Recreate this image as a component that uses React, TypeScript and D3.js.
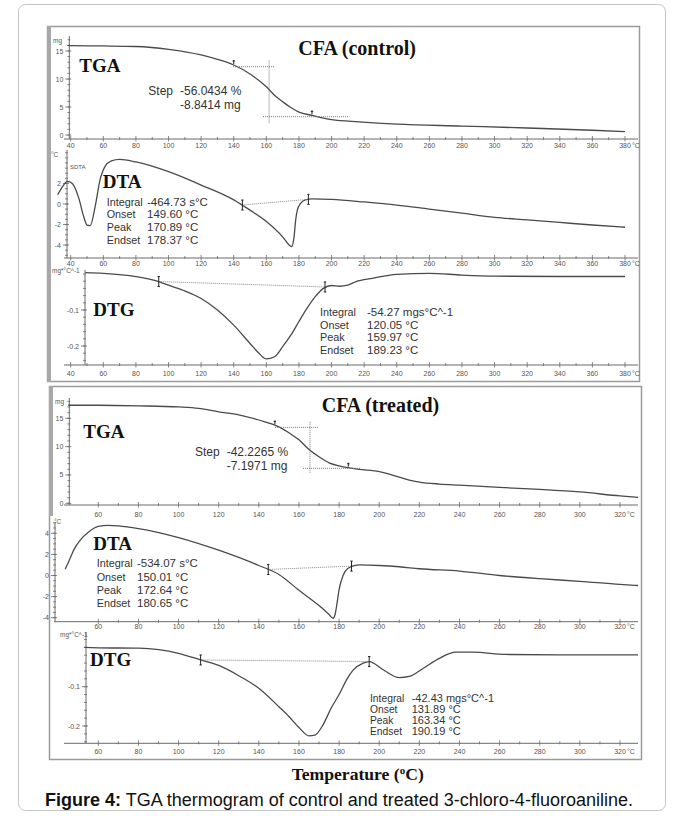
import React from "react"
import * as d3 from "d3"

// ---- CFA (control) ----
const ctrlTgaTemp = [38, 40, 60, 80, 100, 120, 130, 140, 150, 160, 165, 170, 175, 180, 188, 195, 200, 217, 240, 280, 320, 360, 380]
const ctrlTgaMass = [16.0, 15.95, 15.9, 15.8, 15.3, 14.3, 13.5, 12.5, 10.9, 8.6, 7.1, 5.95, 4.9, 4.1, 3.5, 3.0, 2.75, 2.35, 1.95, 1.6, 1.25, 0.85, 0.6]

const ctrlDtaTemp = [32, 35, 38, 41, 45, 48, 50, 52, 55, 58, 61, 65, 70, 80, 100, 120, 140, 150, 160, 170, 174, 175.5, 177, 178, 179, 181, 184, 188, 200, 220, 240, 260, 280, 300, 320, 340, 360, 380]
const ctrlDtaVal = [0.9, 1.7, 2.2, 2.0, 0.55, -1.25, -2.05, -2.1, -0.25, 2.35, 3.65, 4.2, 4.35, 4.1, 3.15, 1.85, 0.4, -0.6, -1.7, -3.2, -4.0, -4.15, -3.2, -1.55, -0.6, 0.05, 0.4, 0.5, 0.45, 0.2, -0.1, -0.5, -0.9, -1.3, -1.55, -1.8, -2.05, -2.27]

const ctrlDtgTemp = [49, 60, 80, 94, 100, 110, 120, 130, 140, 150, 155, 160, 165, 170, 175, 180, 185, 190, 195, 200, 205, 210, 215, 225, 240, 260, 280, 300, 340, 380]
const ctrlDtgVal = [0.004, 0.002, -0.007, -0.021, -0.031, -0.047, -0.068, -0.1, -0.142, -0.193, -0.218, -0.236, -0.23, -0.202, -0.17, -0.132, -0.095, -0.063, -0.04, -0.032, -0.034, -0.031, -0.021, -0.012, -0.001, 0.002, -0.003, -0.006, -0.007, -0.007]

const ctrlStepUpper = [139.6, 165.3, 12.2]
const ctrlStepVertical = [161.7, 13.3, 2.1]
const ctrlStepLower = [158, 211, 3.27]
const ctrlTgaMarks = [140, 188]
const ctrlDtaBase = [[145.3, -0.1], [185.8, 0.45]]
const ctrlDtgBase = [[94, -0.021], [196, -0.036]]

const ctrlStepText = ["-56.0434 %", "-8.8414 mg"]
const ctrlDtaStats = [["Integral", "-464.73 s°C"], ["Onset", "149.60 °C"], ["Peak", "170.89 °C"], ["Endset", "178.37 °C"]]
const ctrlDtgStats = [["Integral", "-54.27 mgs°C^-1"], ["Onset", "120.05 °C"], ["Peak", "159.97 °C"], ["Endset", "189.23 °C"]]

// ---- CFA (treated) ----
const trtTgaTemp = [45, 60, 80, 100, 110, 120, 130, 140, 150, 155, 160, 165, 170, 175, 180, 185, 190, 200, 205, 210, 215, 220, 230, 240, 260, 280, 300, 320, 329]
const trtTgaMass = [17.3, 17.3, 17.2, 17.0, 16.75, 16.15, 15.6, 14.7, 13.5, 12.45, 11.2, 9.5, 8.2, 7.15, 6.6, 6.25, 6.0, 5.6, 5.15, 4.6, 4.1, 3.75, 3.4, 3.2, 2.8, 2.45, 2.0, 1.3, 1.05]

const trtDtaTemp = [43.5, 45, 48, 51, 55, 60, 65, 70, 80, 100, 120, 140, 150, 160, 170, 175, 177, 178, 179, 180, 181, 183, 186, 190, 200, 210, 220, 240, 260, 280, 300, 320, 329]
const trtDtaVal = [0.6, 1.2, 2.5, 3.35, 4.1, 4.65, 4.75, 4.7, 4.45, 3.6, 2.4, 0.95, 0.1, -1.4, -2.85, -3.7, -4.05, -3.7, -2.6, -1.35, -0.55, 0.4, 0.85, 1.0, 0.95, 0.83, 0.64, 0.42, 0.0, -0.3, -0.55, -0.85, -0.95]

const trtDtgTemp = [53, 60, 80, 100, 111, 120, 130, 140, 150, 155, 160, 165, 168, 172, 176, 180, 184, 187, 192, 195, 202, 210, 215, 222, 230, 238, 247, 263, 290, 329]
const trtDtgVal = [0.0, -0.001, -0.002, -0.015, -0.032, -0.046, -0.072, -0.104, -0.151, -0.176, -0.204, -0.225, -0.223, -0.197, -0.155, -0.12, -0.08, -0.058, -0.04, -0.036, -0.057, -0.077, -0.074, -0.053, -0.028, -0.012, -0.012, -0.018, -0.019, -0.019]

const trtStepUpper = [148, 169.5, 13.4]
const trtStepVertical = [165.5, 14.4, 5.3]
const trtStepLower = [162, 190.7, 6.17]
const trtTgaMarks = [148, 184.6]
const trtDtaBase = [[144.7, 0.57], [186.2, 0.89]]
const trtDtgBase = [[111, -0.032], [195, -0.036]]

const trtStepText = ["-42.2265 %", "-7.1971 mg"]
const trtDtaStats = [["Integral", "-534.07 s°C"], ["Onset", "150.01 °C"], ["Peak", "172.64 °C"], ["Endset", "180.65 °C"]]
const trtDtgStats = [["Integral", "-42.43 mgs°C^-1"], ["Onset", "131.89 °C"], ["Peak", "163.34 °C"], ["Endset", "190.19 °C"]]

const ctrlXTicks = d3.range(40, 381, 20)
const trtXTicks = d3.range(60, 321, 20)

const sans = "'Liberation Sans', Arial, sans-serif"
const serif = "'Liberation Serif', 'Times New Roman', serif"
const axisCol = "#6a6a6a"
const lineCol = "#4a4a4a"

const xCtrl = d3.scaleLinear().domain([40, 380]).range([70.7, 625])
const xTrt = d3.scaleLinear().domain([60, 320]).range([98.3, 620])

const yCtrlTga = d3.scaleLinear().domain([0, 15]).range([135, 51])
const yCtrlDta = d3.scaleLinear().domain([-4, 2]).range([245, 183.5])
const yCtrlDtg = d3.scaleLinear().domain([-0.2, -0.1]).range([346, 310])
const yTrtTga = d3.scaleLinear().domain([0, 15]).range([503.3, 418.3])
const yTrtDta = d3.scaleLinear().domain([-4, 4]).range([617.7, 533.3])
const yTrtDtg = d3.scaleLinear().domain([-0.2, -0.1]).range([726, 686.7])

type Scale = d3.ScaleLinear<number, number>

function Curve({ x, y, ts, vs }: { x: Scale; y: Scale; ts: number[]; vs: number[] }) {
  const line = d3
    .line<number>()
    .x((d, i) => x(ts[i]))
    .y((d) => y(d))
    .curve(d3.curveMonotoneX)
  return <path d={line(vs) || ""} fill="none" stroke={lineCol} strokeWidth={1.3} />
}

interface AxesProps {
  x: Scale
  y: Scale
  axisY: number
  xFrom: number
  xTo: number
  xTicks: number[]
  yAxisX: number
  yTop: number
  yTicks: number[]
  yMinorStep: number
  yFmt: (v: number) => string
  unit: string
  unitX: number
  unitY: number
  labelDy: number
}

function Axes(p: AxesProps) {
  const { x, y, axisY, xFrom, xTo, xTicks, yAxisX, yTop } = p
  const step = xTicks[1] - xTicks[0]
  const xMinor = xTicks.map((t) => t + step / 2).filter((t) => x(t) < xTo && x(t) > xFrom)
  const a = y.invert(axisY)
  const b = y.invert(yTop)
  const d0 = Math.min(a, b)
  const d1 = Math.max(a, b)
  const yMinor = d3.range(Math.ceil(d0 / p.yMinorStep) * p.yMinorStep, d1, p.yMinorStep)
  const last = xTicks[xTicks.length - 1]
  return (
    <g fontFamily={sans} fontSize={7} fill="#555">
      <line x1={xFrom} x2={xTo} y1={axisY} y2={axisY} stroke={axisCol} />
      {xMinor.map((t) => (
        <line key={"xm" + t} x1={x(t)} x2={x(t)} y1={axisY - 2} y2={axisY + 1} stroke={axisCol} strokeWidth={0.8} />
      ))}
      {xTicks.map((t) => (
        <line key={"xt" + t} x1={x(t)} x2={x(t)} y1={axisY - 3} y2={axisY + 2.5} stroke={axisCol} strokeWidth={0.8} />
      ))}
      {xTicks.map((t) => (
        <text key={"xl" + t} x={x(t)} y={axisY + p.labelDy} textAnchor="middle">
          {t}
        </text>
      ))}
      <text x={x(last) + 7} y={axisY + p.labelDy}>°C</text>
      <line x1={yAxisX} x2={yAxisX} y1={yTop} y2={axisY} stroke={axisCol} />
      {yMinor.map((v) => (
        <line key={"ym" + v} x1={yAxisX - 2} x2={yAxisX + 1} y1={y(v)} y2={y(v)} stroke={axisCol} strokeWidth={0.8} />
      ))}
      {p.yTicks.map((v) => (
        <line key={"yt" + v} x1={yAxisX - 4} x2={yAxisX + 2} y1={y(v)} y2={y(v)} stroke={axisCol} strokeWidth={0.8} />
      ))}
      {p.yTicks.map((v) => (
        <text key={"yl" + v} x={yAxisX - 6} y={y(v) + 2.5} textAnchor="end">
          {p.yFmt(v)}
        </text>
      ))}
      <text x={p.unitX} y={p.unitY} fontSize={6.5}>{p.unit}</text>
    </g>
  )
}

function EndMark({ px, py }: { px: number; py: number }) {
  return (
    <g stroke="#222" strokeWidth={1}>
      <line x1={px} x2={px} y1={py - 5} y2={py + 5} />
      <line x1={px - 1.2} x2={px + 1.2} y1={py - 5} y2={py - 5} />
      <line x1={px - 1.2} x2={px + 1.2} y1={py + 5} y2={py + 5} />
    </g>
  )
}

function Baseline({ x, y, pts }: { x: Scale; y: Scale; pts: number[][] }) {
  return (
    <g>
      <line
        x1={x(pts[0][0])}
        y1={y(pts[0][1])}
        x2={x(pts[1][0])}
        y2={y(pts[1][1])}
        stroke="#888"
        strokeWidth={1}
        strokeDasharray="1,1"
      />
      {pts.map((d, i) => (
        <EndMark key={i} px={x(d[0])} py={y(d[1])} />
      ))}
    </g>
  )
}

function Step({ x, y, upper, vertical, lower, marks, ts, vs }: { x: Scale; y: Scale; upper: number[]; vertical: number[]; lower: number[]; marks: number[]; ts: number[]; vs: number[] }) {
  const interp = (t: number) => {
    const i = d3.bisectLeft(ts, t)
    const a = Math.max(0, i - 1)
    const f = (t - ts[a]) / (ts[i] - ts[a] || 1)
    return vs[a] + (vs[i] - vs[a]) * f
  }
  return (
    <g stroke="#777" strokeWidth={1} strokeDasharray="1,1">
      <line x1={x(upper[0])} x2={x(upper[1])} y1={y(upper[2])} y2={y(upper[2])} />
      <line x1={x(vertical[0])} x2={x(vertical[0])} y1={y(vertical[1])} y2={y(vertical[2])} />
      <line x1={x(lower[0])} x2={x(lower[1])} y1={y(lower[2])} y2={y(lower[2])} />
      {marks.map((t) => (
        <g key={t} stroke="#222" strokeDasharray="none">
          <line x1={x(t)} x2={x(t)} y1={y(interp(t)) - 5} y2={y(interp(t)) - 1} />
          <line x1={x(t) - 1.2} x2={x(t) + 1.2} y1={y(interp(t)) - 4} y2={y(interp(t)) - 4} />
        </g>
      ))}
    </g>
  )
}

function Stats({ rows, x0, x1, y0, dy, size = 11.5 }: { rows: string[][]; x0: number; x1: number; y0: number; dy: number; size?: number }) {
  return (
    <g fontFamily={sans} fill="#333">
      {rows.map((r, i) => (
        <g key={r[0]}>
          <text x={x0} y={y0 + i * dy} fontSize={size - 0.7}>{r[0]}</text>
          <text x={x1} y={y0 + i * dy} fontSize={size}>{r[1]}</text>
        </g>
      ))}
    </g>
  )
}

function Label({ x, y, text, size = 19 }: { x: number; y: number; text: string; size?: number }) {
  return (
    <text x={x} y={y} fontFamily={serif} fontWeight="bold" fontSize={size} fill="#111">
      {text}
    </text>
  )
}

const fmtNum = (v: number) => String(v)

export default function App() {
  return (
    <svg width={683} height={816} viewBox="0 0 683 816" style={{ position: "absolute", left: 0, top: 0, background: "#fff" }}>
      <rect x={18.5} y={4.5} width={647} height={806} rx={7} fill="#fff" stroke="#c4c4c4" strokeWidth={1} />

      {/* control panel frame */}
      <rect x={47.5} y={26.5} width={592} height={355} fill="#fff" stroke="#9a9a9a" strokeWidth={1.5} />
      <rect x={47} y={26} width={4} height={356} fill="#a8a8a8" />

      {/* treated panel frame */}
      <rect x={49.5} y={386.5} width={592} height={373} fill="#fff" stroke="#9a9a9a" strokeWidth={1.5} />
      <rect x={49} y={386} width={4} height={130} fill="#a8a8a8" />

      {/* ---------- control ---------- */}
      <Axes x={xCtrl} y={yCtrlTga} axisY={139} xFrom={64} xTo={638} xTicks={ctrlXTicks} yAxisX={69.3} yTop={36}
        yTicks={[0, 5, 10, 15]} yMinorStep={1} yFmt={fmtNum} unit="mg" unitX={53} unitY={43} labelDy={9} />
      <Curve x={xCtrl} y={yCtrlTga} ts={ctrlTgaTemp} vs={ctrlTgaMass} />
      <Step x={xCtrl} y={yCtrlTga} upper={ctrlStepUpper} vertical={ctrlStepVertical} lower={ctrlStepLower}
        marks={ctrlTgaMarks} ts={ctrlTgaTemp} vs={ctrlTgaMass} />
      <Label x={79.3} y={71.7} text="TGA" />
      <Label x={298.3} y={55} text="CFA (control)" size={20} />
      <g fontFamily={sans} fontSize={12} fill="#333">
        <text x={148.3} y={95}>Step</text>
        <text x={180} y={95}>{ctrlStepText[0]}</text>
        <text x={180} y={109}>{ctrlStepText[1]}</text>
      </g>

      <Axes x={xCtrl} y={yCtrlDta} axisY={258} xFrom={64} xTo={638} xTicks={ctrlXTicks} yAxisX={67} yTop={150}
        yTicks={[-4, -2, 0, 2]} yMinorStep={0.5} yFmt={fmtNum} unit="°C" unitX={51} unitY={157} labelDy={8} />
      <text x={70} y={169} fontFamily={sans} fontSize={6} fill="#555">SDTA</text>
      <Curve x={xCtrl} y={yCtrlDta} ts={ctrlDtaTemp} vs={ctrlDtaVal} />
      <Baseline x={xCtrl} y={yCtrlDta} pts={ctrlDtaBase} />
      <Label x={102.7} y={188.3} text="DTA" />
      <Stats rows={ctrlDtaStats} x0={106.7} x1={147} y0={205.5} dy={12.8} />

      <Axes x={xCtrl} y={yCtrlDtg} axisY={365} xFrom={64} xTo={638} xTicks={ctrlXTicks} yAxisX={85} yTop={270}
        yTicks={[-0.2, -0.1]} yMinorStep={0.02} yFmt={fmtNum} unit="mg*°C^-1" unitX={52} unitY={273} labelDy={11} />
      <Curve x={xCtrl} y={yCtrlDtg} ts={ctrlDtgTemp} vs={ctrlDtgVal} />
      <Baseline x={xCtrl} y={yCtrlDtg} pts={ctrlDtgBase} />
      <Label x={93.3} y={315.7} text="DTG" />
      <Stats rows={ctrlDtgStats} x0={320} x1={367} y0={315.7} dy={12.8} />

      {/* ---------- treated ---------- */}
      <Axes x={xTrt} y={yTrtTga} axisY={505} xFrom={64} xTo={638} xTicks={trtXTicks} yAxisX={69.3} yTop={398}
        yTicks={[0, 5, 10, 15]} yMinorStep={1} yFmt={fmtNum} unit="mg" unitX={55} unitY={404} labelDy={12} />
      <Curve x={xTrt} y={yTrtTga} ts={trtTgaTemp} vs={trtTgaMass} />
      <Step x={xTrt} y={yTrtTga} upper={trtStepUpper} vertical={trtStepVertical} lower={trtStepLower}
        marks={trtTgaMarks} ts={trtTgaTemp} vs={trtTgaMass} />
      <Label x={83.3} y={438.3} text="TGA" />
      <Label x={321.7} y={411.7} text="CFA (treated)" size={20} />
      <g fontFamily={sans} fontSize={12} fill="#333">
        <text x={195} y={456}>Step</text>
        <text x={226.7} y={456}>{trtStepText[0]}</text>
        <text x={226.7} y={470}>{trtStepText[1]}</text>
      </g>

      <Axes x={xTrt} y={yTrtDta} axisY={621.7} xFrom={54} xTo={638} xTicks={trtXTicks} yAxisX={55} yTop={522}
        yTicks={[-4, -2, 0, 2, 4]} yMinorStep={0.5} yFmt={fmtNum} unit="°C" unitX={54} unitY={524} labelDy={7} />
      <Curve x={xTrt} y={yTrtDta} ts={trtDtaTemp} vs={trtDtaVal} />
      <Baseline x={xTrt} y={yTrtDta} pts={trtDtaBase} />
      <Label x={93.3} y={550} text="DTA" />
      <Stats rows={trtDtaStats} x0={96.7} x1={137} y0={567.3} dy={13.3} />

      <Axes x={xTrt} y={yTrtDtg} axisY={743.3} xFrom={64} xTo={638} xTicks={trtXTicks} yAxisX={86} yTop={632}
        yTicks={[-0.2, -0.1]} yMinorStep={0.02} yFmt={fmtNum} unit="mg*°C^-1" unitX={60} unitY={637} labelDy={11} />
      <Curve x={xTrt} y={yTrtDtg} ts={trtDtgTemp} vs={trtDtgVal} />
      <Baseline x={xTrt} y={yTrtDtg} pts={trtDtgBase} />
      <Label x={90} y={665.7} text="DTG" />
      <Stats rows={trtDtgStats} x0={370} x1={411.7} y0={702.3} dy={11} size={11} />

      {/* axis title and caption */}
      <text x={291.7} y={780} fontFamily={serif} fontWeight="bold" fontSize={17.6} fill="#111">
        Temperature (<tspan dy={-6} fontSize={11}>o</tspan>
        <tspan dy={6}>C)</tspan>
      </text>
      <text x={45} y={806} fontFamily={sans} fontSize={18} fill="#111">
        <tspan fontWeight="bold">Figure 4:</tspan> TGA thermogram of control and treated 3-chloro-4-fluoroaniline.
      </text>
    </svg>
  )
}
